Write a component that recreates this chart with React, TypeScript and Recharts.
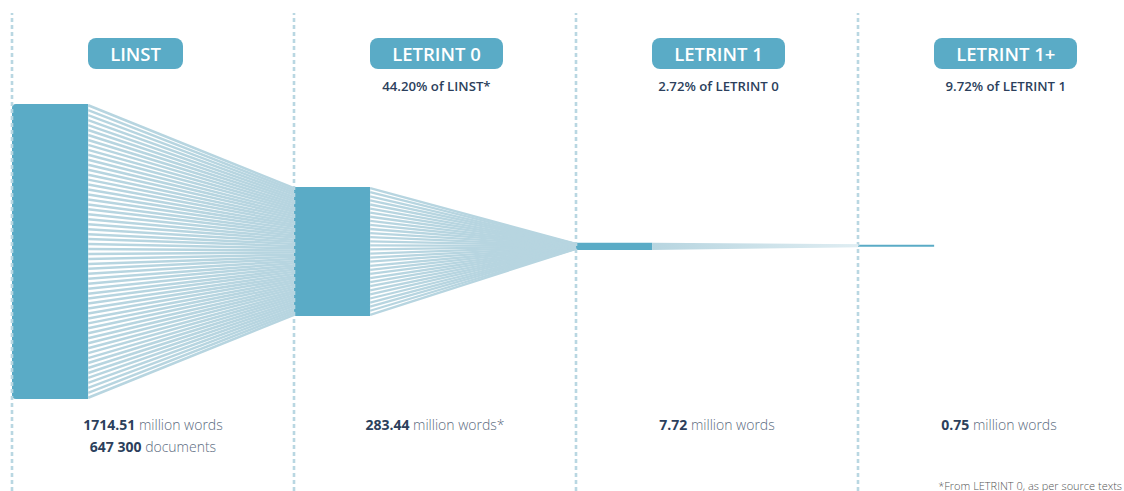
import { ComposedChart, XAxis, YAxis, ReferenceArea, ReferenceLine, Rectangle } from 'recharts';

const stages = ['LINST', 'LETRINT 0', 'LETRINT 1', 'LETRINT 1+'];
const shareLabels = ['', '44.20% of LINST*', '2.72% of LETRINT 0', '9.72% of LETRINT 1'];
const millionWords = [1714.51, 283.44, 7.72, 0.75];
const wordsMark = ['', '*', '', ''];
const documents: (number | null)[] = [647300, null, null, null];
// drawn extent of each stage band (chart units = px, 0 = middle line)
const bandTop = [147.5, 64.5, 8.8, 6.8];
const bandBottom = [-147.5, -64.5, 1.5, 4.8];
// number of connecting strands between stage i and i+1
const strandCounts = [60, 32, 4];

const W = 1124;
const H = 491;
const COL = 282; // px per stage column
const LEFT = 12;
const TOP = 13;
const BAR_W = 0.27; // in column units
const ZERO_PX = 251.5; // where y=0 sits on the page

const BAR = '#5aabc6';
const STRAND = '#b7d5e0';
const DASH = '#b9d7e2';
const INK = '#2c3f5c';
const SOFT = '#5b6b80';
const FONT = '"Open Sans", "Noto Sans", sans-serif';

const yTop = ZERO_PX - TOP;
const yBottom = -(H - ZERO_PX);
const xMax = (W - LEFT) / COL;

function fmtThousands(n: number) {
  return String(n).replace(/\B(?=(\d{3})+(?!\d))/g, ' ');
}

function Band(props: any) {
  return <Rectangle {...props} radius={props.idx === 0 ? [4, 0, 0, 4] : 0} />;
}

function strands() {
  const out: any[] = [];
  for (let i = 0; i < strandCounts.length; i++) {
    const n = strandCounts[i];
    const sw = i === 0 ? 2.5 : i === 1 ? 2.3 : 2.2;
    const a0 = bandTop[i] - sw / 2;
    const b0 = bandBottom[i] + sw / 2;
    let a1 = bandTop[i + 1] - sw / 2;
    let b1 = bandBottom[i + 1] + sw / 2;
    if (a1 < b1) {
      const m = (a1 + b1) / 2;
      a1 = m + 0.4;
      b1 = m - 0.4;
    }
    for (let k = 0; k < n; k++) {
      const t = n === 1 ? 0.5 : k / (n - 1);
      out.push(
        <ReferenceLine
          key={`s${i}-${k}`}
          segment={[
            { x: i + BAR_W, y: a0 + (b0 - a0) * t },
            { x: i + 1, y: a1 + (b1 - a1) * t }
          ]}
          stroke={i === 2 ? 'url(#fadeStrand)' : STRAND}
          strokeWidth={sw}
          ifOverflow="visible"
        />
      );
    }
  }
  return out;
}

export default function App() {
  return (
    <div style={{ position: 'absolute', left: 0, top: 0, width: W, height: H, background: '#fff', fontFamily: FONT }}>
      <svg width={0} height={0} style={{ position: 'absolute' }}>
        <defs>
          <linearGradient id="fadeStrand" x1="0" y1="0" x2="1" y2="0">
            <stop offset="0%" stopColor="#b7d5e0" />
            <stop offset="100%" stopColor="#dfedf2" />
          </linearGradient>
        </defs>
      </svg>

      <ComposedChart width={W} height={H} data={[]} margin={{ top: TOP, right: 0, bottom: 0, left: LEFT }}>
        <XAxis type="number" dataKey="x" domain={[0, xMax]} hide allowDataOverflow />
        <YAxis type="number" domain={[yBottom, yTop]} hide allowDataOverflow />

        {stages.map((s, i) => (
          <ReferenceLine
            key={`d${s}`}
            x={i}
            stroke={DASH}
            strokeWidth={2.6}
            strokeDasharray="4 3"
            ifOverflow="visible"
          />
        ))}

        {strands()}

        {stages.map((s, i) => (
          <ReferenceArea
            key={`b${s}`}
            x1={i}
            x2={i + BAR_W}
            y1={bandBottom[i]}
            y2={bandTop[i]}
            fill={BAR}
            fillOpacity={1}
            stroke="none"
            ifOverflow="visible"
            shape={(p: any) => <Band {...p} idx={i} />}
          />
        ))}
      </ComposedChart>

      {stages.map((s, i) => (
        <div
          key={`h${s}`}
          style={{
            position: 'absolute',
            left: LEFT + COL * (i + BAR_W),
            top: 38,
            display: 'flex',
            flexDirection: 'column',
            alignItems: 'center'
          }}
        >
          <div
            style={{
              background: BAR,
              color: '#fff',
              height: 31,
              lineHeight: '31px',
              padding: '0 22px',
              borderRadius: 8,
              fontSize: 18.5,
              fontWeight: 600,
              whiteSpace: 'nowrap'
            }}
          >
            {s}
          </div>
          {shareLabels[i] && (
            <div style={{ marginTop: 8, fontSize: 13.2, fontWeight: 600, color: INK, whiteSpace: 'nowrap' }}>
              {shareLabels[i]}
            </div>
          )}
        </div>
      ))}

      {stages.map((s, i) => (
        <div
          key={`v${s}`}
          style={{
            position: 'absolute',
            left: LEFT + COL * i,
            width: COL,
            top: 414,
            textAlign: 'center',
            fontSize: 14,
            lineHeight: '22px',
            fontWeight: 300,
            color: SOFT,
            whiteSpace: 'nowrap'
          }}
        >
          <div>
            <span style={{ fontWeight: 700, color: INK }}>{millionWords[i].toFixed(2)}</span> million words{wordsMark[i]}
          </div>
          {documents[i] != null && (
            <div>
              <span style={{ fontWeight: 700, color: INK }}>{fmtThousands(documents[i] as number)}</span> documents
            </div>
          )}
        </div>
      ))}

      <div
        style={{
          position: 'absolute',
          right: 2,
          top: 478,
          fontSize: 11,
          fontWeight: 300,
          color: '#555',
          whiteSpace: 'nowrap'
        }}
      >
        *From LETRINT 0, as per source texts
      </div>
    </div>
  );
}
